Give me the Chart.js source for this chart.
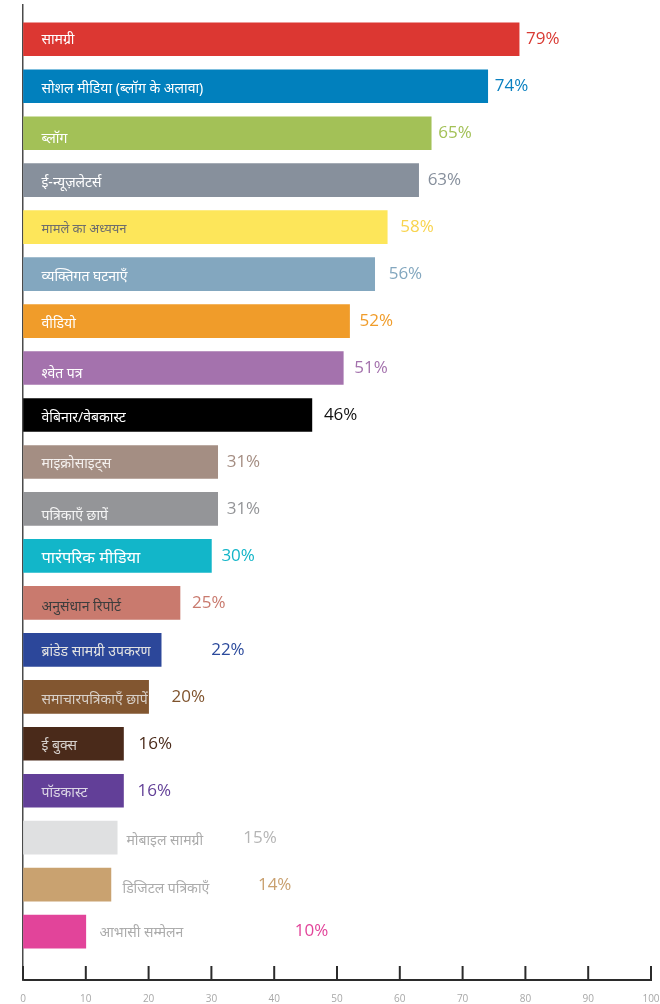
<!DOCTYPE html>
<html>
<head>
<meta charset="utf-8">
<script src="https://cdn.jsdelivr.net/npm/chart.js@4"></script>
<style>
    body { margin: 0; background: #fff; }
    #wrap { width: 660px; height: 1004px; position: relative; }
</style>
</head>
<body>
<div id="wrap"><canvas id="contentChart"></canvas></div>
<script>
// chart data
const categories = [
    'सामग्री', 'सोशल मीडिया (ब्लॉग के अलावा)', 'ब्लॉग', 'ई-न्यूज़लेटर्स', 'मामले का अध्ययन',
    'व्यक्तिगत घटनाएँ', 'वीडियो', 'श्वेत पत्र', 'वेबिनार/वेबकास्ट', 'माइक्रोसाइट्स',
    'पत्रिकाएँ छापें', 'पारंपरिक मीडिया', 'अनुसंधान रिपोर्ट', 'ब्रांडेड सामग्री उपकरण', 'समाचारपत्रिकाएँ छापें',
    'ई बुक्स', 'पॉडकास्ट', 'मोबाइल सामग्री', 'डिजिटल पत्रिकाएँ', 'आभासी सम्मेलन'
];
const percents = [79, 74, 65, 63, 58, 56, 52, 51, 46, 31, 31, 30, 25, 22, 20, 16, 16, 15, 14, 10];
const xTicks = [0, 10, 20, 30, 40, 50, 60, 70, 80, 90, 100];

// colours
const barColors = ['#dc3732', '#0180bd', '#a3c157', '#87909c', '#fde65a', '#83a7bf', '#f09c2a', '#a472ad', '#000000', '#a48e83',
    '#949598', '#12b6c9', '#c97a6e', '#2c479a', '#825630', '#4a2a1a', '#623f98', '#dfe0e1', '#c9a270', '#e2449a'];
const valueColors = ['#d93a33', '#0a80c0', '#a3c157', '#868f9c', '#f8d44f', '#83a7bf', '#f09c2a', '#a472ad', '#111111', '#a48d82',
    '#939497', '#12b5c8', '#c97a6e', '#2b4a9c', '#7f532d', '#4a2a1a', '#623f97', '#b5b5b5', '#c9a06f', '#e2449a'];
const labelColors = ['#ffffff', '#ffffff', '#ffffff', '#ffffff', '#6d6d6d', '#ffffff', '#ffffff', '#ffffff', '#ffffff', '#f4f0ee',
    '#f4f4f4', '#ffffff', '#3d3d3d', '#e2e2e2', '#d8d0c8', '#d6d0cc', '#dcd6e6', '#acacac', '#acacac', '#acacac'];

// label placement (pixels)
const labelOffset = [18, 18, 18, 18, 18, 18, 18, 18, 18, 18, 18, 18, 18, 18, 18, 18, 18, 103, 99, 76];
const labelDy = [1, 3, 6, 3, 2, 3, 3, 6, 3, 2, 7, 2, 4, 2, 3, 2, 2, 3, 4, 1];
const labelSize = [14, 14, 14, 14, 13, 14, 14, 14, 14, 14, 14, 16.5, 14, 14, 14, 14, 14, 14, 14, 14];
const valueGap = [7, 7, 7, 9, 13, 14, 10, 11, 12, 9, 9, 10, 12, 50, 23, 15, 14, 126, 147, 209];

const barLabels = {
    id: 'barLabels',
    afterDatasetsDraw(chart) {
        const ctx = chart.ctx;
        const meta = chart.getDatasetMeta(0);
        meta.data.forEach((bar, i) => {
            ctx.save();
            ctx.textBaseline = 'middle';
            ctx.textAlign = 'left';
            // category name
            ctx.font = labelSize[i] + 'px "Noto Sans", sans-serif';
            ctx.fillStyle = labelColors[i];
            ctx.fillText(categories[i], bar.base + labelOffset[i], bar.y + labelDy[i]);
            // percent value
            ctx.font = '17px "Open Sans", sans-serif';
            ctx.fillStyle = valueColors[i];
            ctx.fillText(percents[i] + '%', bar.x + valueGap[i], bar.y);
            ctx.restore();
        });
    }
};

// tick marks point up into the plot
const upTicks = {
    id: 'upTicks',
    afterDraw(chart) {
        const ctx = chart.ctx;
        const x = chart.scales.x;
        const bottom = chart.chartArea.bottom;
        ctx.save();
        ctx.strokeStyle = '#2b2b2b';
        ctx.lineWidth = 2;
        x.ticks.forEach(t => {
            const px = x.getPixelForValue(t.value);
            ctx.beginPath();
            ctx.moveTo(px, bottom);
            ctx.lineTo(px, bottom - 14);
            ctx.stroke();
        });
        ctx.restore();
    }
};

const ctx = document.getElementById('contentChart').getContext('2d');
new Chart(ctx, {
    type: 'bar',
    data: {
        datasets: [{
            data: percents.map((v, i) => ({ x: v, y: i })),
            backgroundColor: barColors,
            barThickness: 33,
            borderWidth: 0
        }]
    },
    options: {
        indexAxis: 'y',
        responsive: true,
        maintainAspectRatio: false,
        animation: false,
        layout: { padding: { left: 23, right: 9, top: 5, bottom: -14 } },
        plugins: {
            legend: { display: false },
            tooltip: { enabled: false }
        },
        scales: {
            x: {
                type: 'linear',
                min: 0,
                max: 100,
                afterBuildTicks: scale => { scale.ticks = xTicks.map(v => ({ value: v })); },
                afterFit: scale => { scale.paddingLeft = 0; scale.paddingRight = 0; },
                grid: { display: true, drawOnChartArea: false, drawTicks: false },
                border: { color: '#2b2b2b', width: 2 },
                ticks: {
                    color: '#a8a8a8',
                    padding: 13,
                    font: { family: '"Open Sans", sans-serif', size: 10 }
                }
            },
            y: {
                type: 'linear',
                reverse: true,
                offset: false,
                min: -0.73,
                max: 20.03,
                grid: { display: false, drawTicks: false, offset: false },
                border: { color: '#4a4a4a', width: 1.5 },
                ticks: { display: false, padding: 0 }
            }
        }
    },
    plugins: [barLabels, upTicks]
});
</script>
</body>
</html>
